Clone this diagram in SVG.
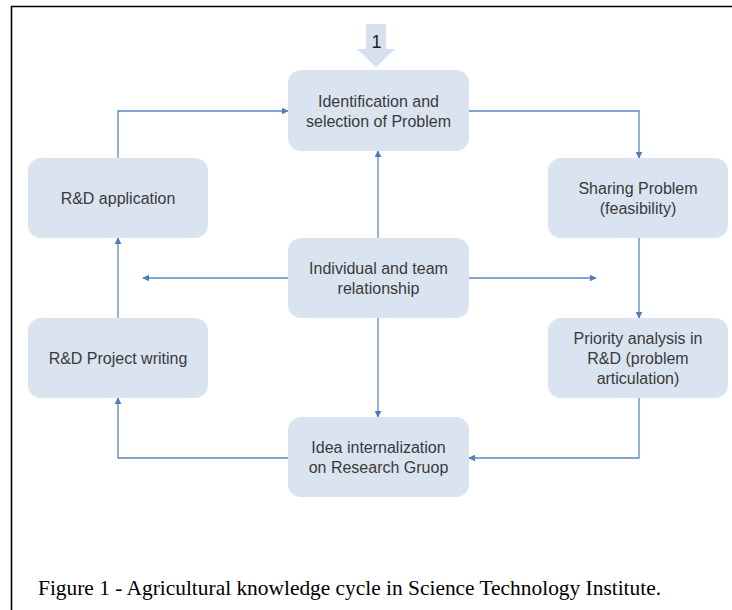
<svg xmlns="http://www.w3.org/2000/svg" width="732" height="610" viewBox="0 0 732 610">
<defs>
<style>
.node rect{fill:#dae3f0;}
.node text{font-family:"Liberation Sans",Arial,sans-serif;font-size:16px;fill:#3a3a3a;text-anchor:middle;}
.conn path{fill:none;stroke:#5b87bd;stroke-width:1.3;marker-end:url(#ah);}
.frame{fill:none;stroke:#000;stroke-width:1.6;}
.caption{font-family:"Liberation Serif","Times New Roman",serif;font-size:21.4px;fill:#000;}
</style>
<marker id="ah" viewBox="0 0 10 10" refX="9" refY="5" markerWidth="7" markerHeight="7" markerUnits="userSpaceOnUse" orient="auto">
<path d="M0,0 L10,5 L0,10 z" fill="#4f7fbb"/>
</marker>
</defs>
<rect width="732" height="610" fill="#fff"/>
<path class="frame" d="M11.5,610 V6.5 H732"/>
<g id="start-arrow">
<path d="M366,24 H386 V49 H395 L376,67 L357,49 H366 Z" fill="#d7e1ee"/>
<text x="376.5" y="48" text-anchor="middle" font-family="Liberation Sans,Arial,sans-serif" font-size="18" fill="#222">1</text>
</g>
<g id="connectors" class="conn">
<path d="M118,158 V111 H288"/>
<path d="M469,111 H639 V158"/>
<path d="M639,238 V318"/>
<path d="M639,398 V458 H469"/>
<path d="M288,458 H118 V398"/>
<path d="M118,318 V238"/>
<path d="M378,238 V151"/>
<path d="M378,318 V417"/>
<path d="M288,278 H143"/>
<path d="M469,278 H596"/>
</g>
<g id="n-identification" class="node">
<rect x="288" y="70" width="181" height="81" rx="13"/>
<text x="378.5" y="107">Identification  and</text>
<text x="378.5" y="127">selection of Problem</text>
</g>
<g id="n-sharing" class="node">
<rect x="548" y="158" width="180" height="80" rx="13"/>
<text x="638" y="194">Sharing  Problem</text>
<text x="638" y="214">(feasibility)</text>
</g>
<g id="n-priority" class="node">
<rect x="548" y="318" width="180" height="80" rx="13"/>
<text x="638" y="344">Priority analysis  in</text>
<text x="638" y="364">R&amp;D (problem</text>
<text x="638" y="384">articulation)</text>
</g>
<g id="n-idea" class="node">
<rect x="288" y="417" width="181" height="80" rx="13"/>
<text x="378.5" y="453">Idea internalization</text>
<text x="378.5" y="473">on Research Gruop</text>
</g>
<g id="n-writing" class="node">
<rect x="28" y="318" width="180" height="80" rx="13"/>
<text x="118" y="364">R&amp;D Project writing</text>
</g>
<g id="n-application" class="node">
<rect x="28" y="158" width="180" height="80" rx="13"/>
<text x="118" y="204">R&amp;D application</text>
</g>
<g id="n-relationship" class="node">
<rect x="288" y="238" width="181" height="80" rx="13"/>
<text x="378.5" y="274">Individual  and team</text>
<text x="378.5" y="294">relationship</text>
</g>
<text class="caption" x="38" y="595">Figure 1 - Agricultural knowledge cycle in Science Technology Institute.</text>
</svg>
